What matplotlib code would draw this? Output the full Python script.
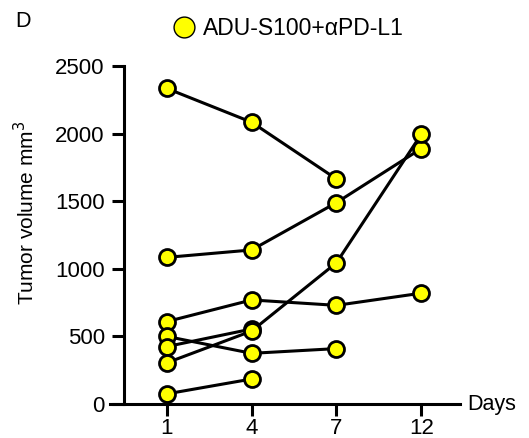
import matplotlib
matplotlib.use("Agg")
import matplotlib.pyplot as plt

plt.rcParams['font.family'] = ['Liberation Sans', 'DejaVu Sans']

days = ["1", "4", "7", "12"]
# one list per mouse, values per day
mice = [
    [2335, 2085, 1665],
    [1085, 1140, 1490, 1890],
    [610, 770, 730, 820],
    [500, 375, 410],
    [425, 555],
    [305, 540, 1045, 1995],
    [75, 185],
]
legend_label = "ADU-S100+αPD-L1"

fig = plt.figure(figsize=(5.29, 4.38), dpi=100)
ax = fig.add_axes([0.208, 0.0776, 0.662, 0.7714])

for m in mice:
    ax.plot(range(len(m)), m, color="black", lw=2.2, marker="o", ms=11.5,
            mfc="#ffff00", mec="black", mew=2.0, clip_on=False, zorder=3)

ax.set_xlim(-0.67, 3.46)
ax.set_ylim(0, 2500)
ax.set_xticks(range(len(days)))
ax.set_xticklabels(days)
ax.set_yticks([0, 500, 1000, 1500, 2000, 2500])

ax.spines['top'].set_visible(False)
ax.spines['right'].set_visible(False)
ax.spines['left'].set_position(('data', -0.51))
for s in ['left', 'bottom']:
    ax.spines[s].set_linewidth(2.2)
ax.tick_params(width=2.2, length=8.5, labelsize=16)
ax.tick_params(axis='y', pad=5)
ax.tick_params(axis='x', pad=1.5)

ax.set_ylabel("Tumor volume mm$^3$", fontsize=15)
ax.yaxis.set_label_coords(-0.205, 0.565)
fig.text(0.884, 0.077, "Days", fontsize=15.5, va="center", ha="left")
fig.text(0.028, 0.952, "D", fontsize=15.5, va="center", ha="left")

ax.plot([], [], ls="none", marker="o", ms=15, mfc="#ffff00", mec="black",
        mew=1.0, label=legend_label)
ax.legend(loc="center left", bbox_to_anchor=(0.305, 0.935), bbox_transform=fig.transFigure,
          frameon=False, fontsize=16.5, handletextpad=0.3, borderpad=0, handlelength=1.0)

fig.savefig("out.png", dpi=100)
